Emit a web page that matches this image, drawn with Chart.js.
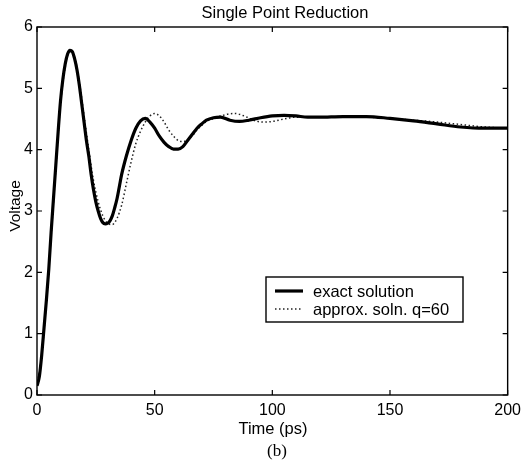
<!DOCTYPE html>
<html>
<head>
<meta charset="utf-8">
<script src="https://cdn.jsdelivr.net/npm/chart.js@4.4.1/dist/chart.umd.min.js"></script>
<style>
  html, body { margin: 0; padding: 0; background: #fff; }
  #wrap { width: 527px; height: 464px; }
</style>
</head>
<body>
<div id="wrap"><canvas id="myChart" width="527" height="464"></canvas></div>
<script>
const titulo = "Single Point Reduction";
const etiquetaX = "Time (ps)";
const etiquetaY = "Voltage";
const subtitulo = "(b)";

const xTicks = [0, 50, 100, 150, 200];
const yTicks = [0, 1, 2, 3, 4, 5, 6];

// exact solution
const tiempoExacto = [0, 1, 2, 3, 4, 5, 6, 7, 8, 9, 10, 11, 12, 13, 14, 15, 16, 17, 18, 19, 20,
  21, 22, 23, 24, 25, 26, 27, 28, 29, 30, 31, 32, 33, 34, 35, 36, 38, 40, 42, 44, 46, 48, 50,
  52, 54, 56, 58, 60, 62, 64, 66, 68, 70, 72, 75, 78, 82, 86, 90, 95, 100, 105, 110, 115, 120,
  130, 140, 150, 160, 170, 180, 190, 200];
const voltExacto = [0.15, 0.3, 0.65, 1.1, 1.55, 2.05, 2.65, 3.2, 3.75, 4.3, 4.8, 5.15, 5.4, 5.56,
  5.62, 5.6, 5.48, 5.3, 5.05, 4.75, 4.45, 4.15, 3.9, 3.6, 3.35, 3.15, 3.0, 2.88, 2.81, 2.79, 2.8,
  2.84, 2.92, 3.05, 3.2, 3.4, 3.6, 3.9, 4.15, 4.35, 4.47, 4.51, 4.45, 4.35, 4.22, 4.12, 4.05, 4.01,
  4.01, 4.05, 4.15, 4.25, 4.35, 4.42, 4.48, 4.52, 4.53, 4.48, 4.46, 4.48, 4.52, 4.55, 4.56, 4.55,
  4.53, 4.53, 4.54, 4.54, 4.51, 4.47, 4.42, 4.37, 4.35, 4.35];

// approx. soln. q=60
const tiempoAprox = [0, 2, 4, 6, 8, 10, 12, 14, 16, 18, 20, 22, 24, 26, 28, 30, 32, 34, 36, 38, 40,
  42, 44, 46, 48, 50, 52, 54, 56, 58, 60, 62, 64, 66, 68, 70, 72, 76, 80, 84, 88, 92, 96, 100, 105,
  110, 120, 130, 140, 150, 160, 170, 180, 190, 200];
const voltAprox = [0.15, 0.65, 1.55, 2.6, 3.7, 4.75, 5.35, 5.6, 5.5, 5.1, 4.55, 4.0, 3.5, 3.15,
  2.92, 2.8, 2.78, 2.88, 3.1, 3.45, 3.8, 4.1, 4.3, 4.45, 4.55, 4.59, 4.55, 4.45, 4.32, 4.22, 4.15,
  4.13, 4.16, 4.23, 4.32, 4.4, 4.46, 4.52, 4.57, 4.59, 4.55, 4.48, 4.45, 4.46, 4.5, 4.53, 4.53,
  4.54, 4.53, 4.51, 4.48, 4.45, 4.41, 4.37, 4.35];

const fuente = "'Liberation Sans', Arial, sans-serif";

function puntos(xs, ys) {
  return xs.map((x, i) => ({ x: x, y: ys[i] }));
}

// marco, ticks hacia adentro, textos y leyenda
const marcoPlugin = {
  id: "marco",
  afterDraw(chart) {
    const ctx = chart.ctx;
    const a = chart.chartArea;
    const sx = chart.scales.x;
    const sy = chart.scales.y;
    ctx.save();
    ctx.strokeStyle = "#000";
    ctx.lineWidth = 1.4;
    ctx.strokeRect(a.left, a.top, a.right - a.left, a.bottom - a.top);
    ctx.lineWidth = 1.2;
    xTicks.forEach((t) => {
      const px = sx.getPixelForValue(t);
      ctx.beginPath();
      ctx.moveTo(px, a.bottom); ctx.lineTo(px, a.bottom - 5);
      ctx.moveTo(px, a.top); ctx.lineTo(px, a.top + 5);
      ctx.stroke();
    });
    yTicks.forEach((t) => {
      const py = sy.getPixelForValue(t);
      ctx.beginPath();
      ctx.moveTo(a.left, py); ctx.lineTo(a.left + 5, py);
      ctx.moveTo(a.right, py); ctx.lineTo(a.right - 5, py);
      ctx.stroke();
    });

    // textos
    ctx.fillStyle = "#000";
    ctx.textAlign = "center";
    ctx.textBaseline = "middle";
    ctx.font = "16.5px " + fuente;
    ctx.fillText(titulo, 285, 13);
    ctx.fillText(etiquetaX, 273, 429);
    ctx.font = "17px 'Liberation Serif', 'Times New Roman', serif";
    ctx.fillText(subtitulo, 277, 452);
    ctx.save();
    ctx.translate(16, 206);
    ctx.rotate(-Math.PI / 2);
    ctx.font = "15.5px " + fuente;
    ctx.fillText(etiquetaY, 0, 0);
    ctx.restore();

    // leyenda
    const lx = 266, ly = 277, lw = 197, lh = 45;
    ctx.fillStyle = "#fff";
    ctx.fillRect(lx, ly, lw, lh);
    ctx.strokeStyle = "#000";
    ctx.lineWidth = 1.4;
    ctx.strokeRect(lx, ly, lw, lh);
    ctx.font = "16.5px " + fuente;
    ctx.textAlign = "left";
    ctx.fillStyle = "#000";
    chart.data.datasets.forEach((ds, i) => {
      const yy = ly + 14 + i * 18;
      ctx.beginPath();
      ctx.lineWidth = ds.borderWidth;
      ctx.strokeStyle = ds.borderColor;
      ctx.setLineDash(ds.borderDash || []);
      ctx.moveTo(lx + 9, yy); ctx.lineTo(lx + 37, yy);
      ctx.stroke();
      ctx.setLineDash([]);
      ctx.fillText(ds.label, lx + 47, yy + 1);
    });
    ctx.restore();
  }
};

const graph = document.querySelector("#myChart");
const myChart = new Chart(graph, {
  type: "line",
  data: {
    datasets: [
      {
        label: "exact solution",
        data: puntos(tiempoExacto, voltExacto),
        borderColor: "#000",
        borderWidth: 3.2,
        pointRadius: 0,
        cubicInterpolationMode: "monotone"
      },
      {
        label: "approx. soln. q=60",
        data: puntos(tiempoAprox, voltAprox),
        borderColor: "#222",
        borderWidth: 1.5,
        borderDash: [1.5, 2.5],
        pointRadius: 0,
        cubicInterpolationMode: "monotone"
      }
    ]
  },
  options: {
    responsive: false,
    animation: false,
    layout: { padding: { top: 27, right: 19, left: 0, bottom: 0 } },
    plugins: { legend: { display: false }, tooltip: { enabled: false } },
    scales: {
      x: {
        type: "linear",
        min: 0,
        max: 200,
        afterBuildTicks: (s) => { s.ticks = xTicks.map((v) => ({ value: v })); },
        afterFit: (s) => { s.height = 69; },
        grid: { display: false, drawTicks: false },
        border: { display: false },
        ticks: { color: "#000", padding: 6, font: { size: 16, family: fuente } }
      },
      y: {
        min: 0,
        max: 6,
        afterBuildTicks: (s) => { s.ticks = yTicks.map((v) => ({ value: v })); },
        afterFit: (s) => { s.width = 37; },
        grid: { display: false, drawTicks: false },
        border: { display: false },
        ticks: { color: "#000", padding: 4, font: { size: 16, family: fuente } }
      }
    }
  },
  plugins: [marcoPlugin]
});
</script>
</body>
</html>
